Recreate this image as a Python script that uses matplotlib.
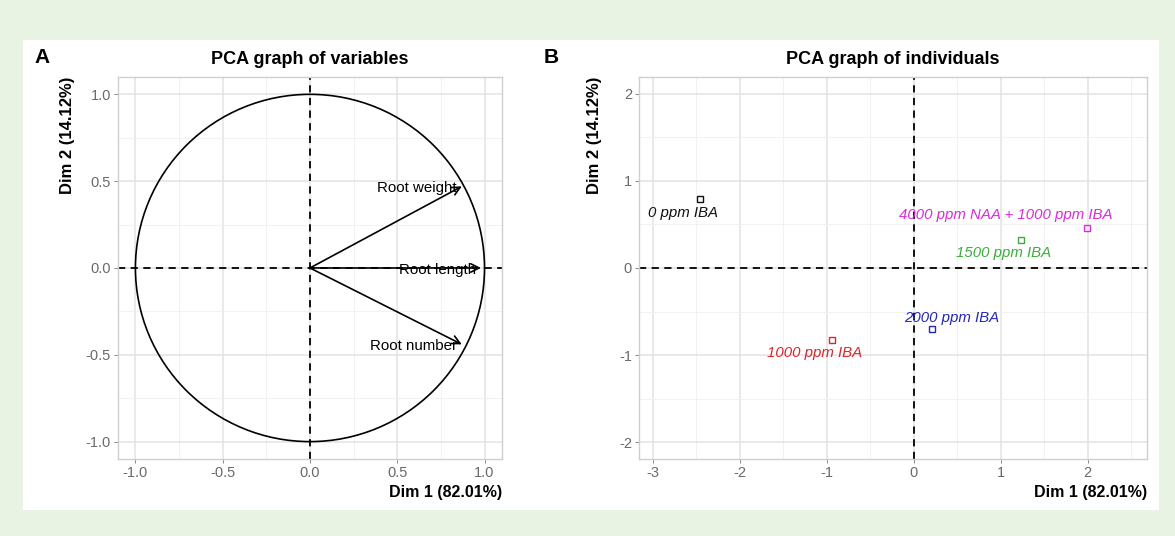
import numpy as np
import matplotlib
matplotlib.use("Agg")
import matplotlib.pyplot as plt
from matplotlib.patches import Circle, Rectangle

plt.rcParams['font.family'] = ['Liberation Sans', 'DejaVu Sans']

# datos del grafico de variables
variables = ["Root weight", "Root length", "Root number"]
var_dim1 = [0.87, 0.98, 0.87]
var_dim2 = [0.47, 0.00, -0.44]

# datos del grafico de individuos
individuos = ["0 ppm IBA", "1000 ppm IBA", "2000 ppm IBA", "1500 ppm IBA",
              "4000 ppm NAA + 1000 ppm IBA"]
ind_dim1 = [-2.46, -0.94, 0.21, 1.23, 1.99]
ind_dim2 = [0.79, -0.83, -0.70, 0.32, 0.46]
ind_colors = ["#111111", "#d8262b", "#2626b8", "#3aae3a", "#dc2adc"]

# desplazamiento de las etiquetas (unidades de datos)
label_offsets = [(-0.19, -0.16), (-0.20, -0.15), (0.22, 0.13), (-0.20, -0.15), (-0.93, 0.15)]

dim1_label = "Dim 1 (82.01%)"
dim2_label = "Dim 2 (14.12%)"

bg_green = "#e9f3e3"
grid_major = "#e3e3e3"
grid_minor = "#f0f0f0"
tick_color = "#6a6a6a"

fig = plt.figure(figsize=(11.75, 5.36), dpi=100)
fig.patch.set_facecolor(bg_green)
fondo = Rectangle((0.0196, 0.0485), 0.9668, 0.8769, transform=fig.transFigure,
                  facecolor="white", edgecolor="none", zorder=-10)
fig.add_artist(fondo)

ax1 = fig.add_axes([0.1004, 0.1437, 0.3268, 0.7127])
ax2 = fig.add_axes([0.5438, 0.1437, 0.4323, 0.7127])


def estilo(ax, xmaj, ymaj, xmin, ymin, fmt):
    ax.set_facecolor("white")
    ax.set_xticks(xmaj)
    ax.set_yticks(ymaj)
    ax.set_xticks(xmin, minor=True)
    ax.set_yticks(ymin, minor=True)
    ax.set_xticklabels([fmt.format(v) for v in xmaj], fontsize=10.5, color=tick_color)
    ax.set_yticklabels([fmt.format(v) for v in ymaj], fontsize=10.5, color=tick_color)
    ax.grid(which="major", color=grid_major, lw=1.1, zorder=0)
    ax.grid(which="minor", color=grid_minor, lw=0.6, zorder=0)
    ax.tick_params(which="major", length=3, color="#777777", width=0.6, pad=2)
    ax.tick_params(which="minor", length=0)
    for s in ax.spines.values():
        s.set_color("#cfcfcf")
        s.set_linewidth(1.0)
    ax.set_axisbelow(True)
    ax.set_xlabel(dim1_label, loc="right", fontsize=11.5, fontweight="bold", labelpad=4)
    ax.set_ylabel(dim2_label, loc="top", fontsize=12, fontweight="bold")


# Panel A: circulo de correlaciones
estilo(ax1, [-1.0, -0.5, 0.0, 0.5, 1.0], [-1.0, -0.5, 0.0, 0.5, 1.0],
       [-0.75, -0.25, 0.25, 0.75], [-0.75, -0.25, 0.25, 0.75], "{:.1f}")
ax1.set_xlim(-1.1, 1.1)
ax1.set_ylim(-1.1, 1.1)
ax1.yaxis.labelpad = 8
ax1.add_patch(Circle((0, 0), 1.0, fill=False, edgecolor="black", lw=1.2, zorder=2))
ax1.axhline(0, color="black", lw=1.3, ls=(0, (4, 3)), zorder=2)
ax1.axvline(0, color="black", lw=1.3, ls=(0, (4, 3)), zorder=2)
for name, x, y in zip(variables, var_dim1, var_dim2):
    ax1.annotate("", xy=(x, y), xytext=(0, 0),
                 arrowprops=dict(arrowstyle="->", color="black", lw=1.2,
                                 shrinkA=0, shrinkB=0, mutation_scale=15), zorder=3)
    ax1.text(x - 0.03, y - 0.01, name, ha="right", va="center", fontsize=10.8, zorder=4)
ax1.set_title("PCA graph of variables", fontsize=13, fontweight="bold", pad=9)
fig.text(0.029, 0.893, "A", fontsize=15, fontweight="bold", va="center")

# Panel B: individuos
estilo(ax2, [-3, -2, -1, 0, 1, 2], [-2, -1, 0, 1, 2],
       [-2.5, -1.5, -0.5, 0.5, 1.5, 2.5], [-1.5, -0.5, 0.5, 1.5], "{:d}")
ax2.set_xlim(-3.16, 2.68)
ax2.set_ylim(-2.19, 2.19)
ax2.yaxis.labelpad = 12
ax2.axhline(0, color="black", lw=1.3, ls=(0, (4, 3)), zorder=2)
ax2.axvline(0, color="black", lw=1.3, ls=(0, (4, 3)), zorder=2)
for name, x, y, c, off in zip(individuos, ind_dim1, ind_dim2, ind_colors, label_offsets):
    ax2.plot(x, y, marker="s", ms=5, mfc="none", mec=c, mew=1.0, ls="none", zorder=3)
    ax2.text(x + off[0], y + off[1], name, color=c, style="italic", fontsize=10.8,
             ha="center", va="center", zorder=4)
ax2.set_title("PCA graph of individuals", fontsize=13, fontweight="bold", pad=9)
fig.text(0.463, 0.893, "B", fontsize=15, fontweight="bold", va="center")

plt.savefig("out.png", dpi=100, facecolor=fig.get_facecolor())
